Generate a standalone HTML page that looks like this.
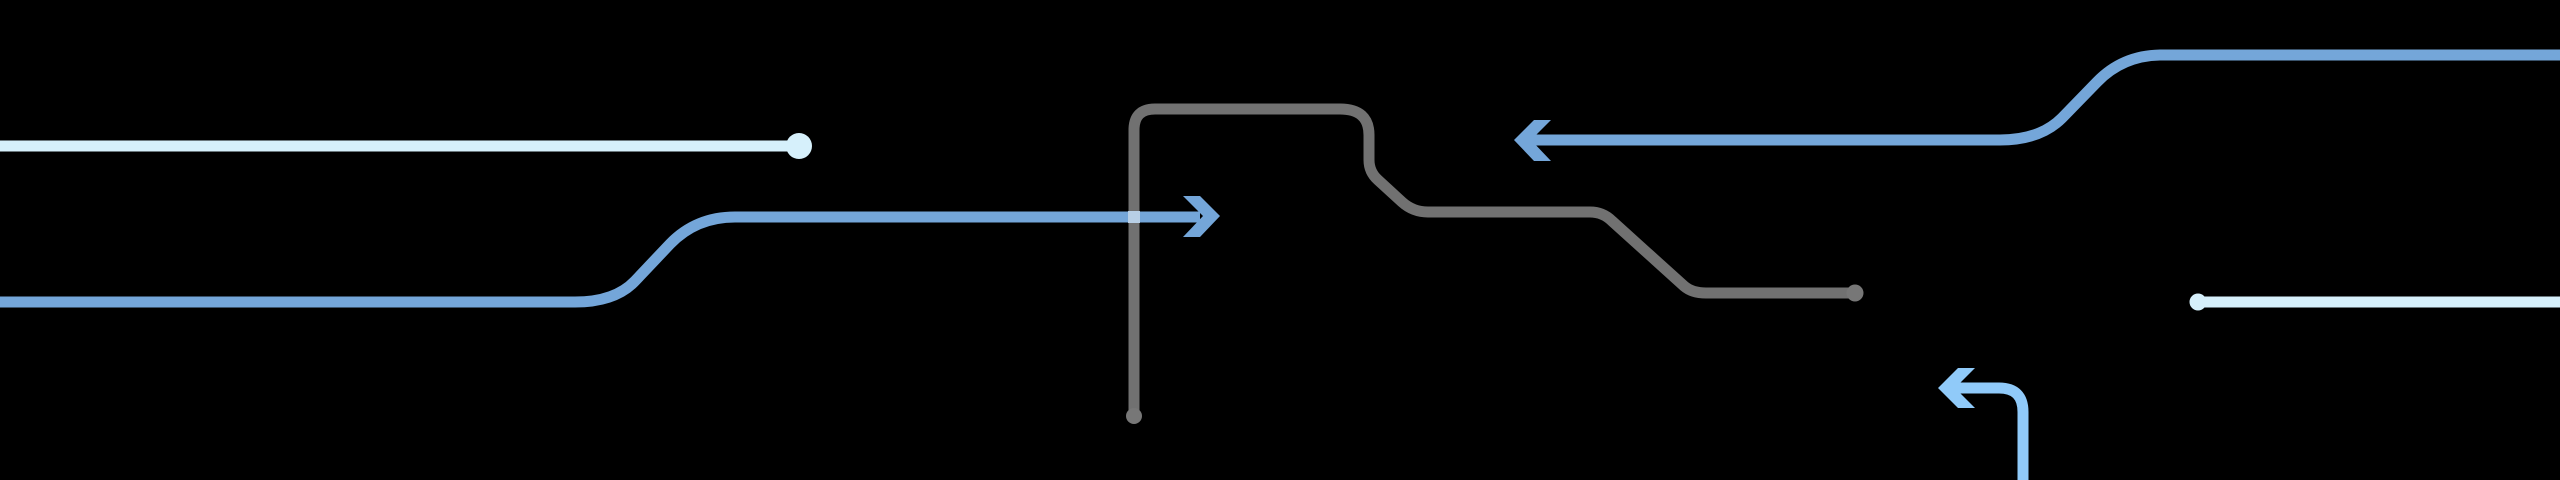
<!DOCTYPE html>
<html><head><meta charset="utf-8"><style>html,body{margin:0;padding:0;background:#000;width:2560px;height:480px;overflow:hidden}</style></head>
<body>
<svg width="2560" height="480" viewBox="0 0 2560 480" xmlns="http://www.w3.org/2000/svg">
<g fill="none" stroke-width="11">
  <path d="M0 146 H800" stroke="#d6f0fb"/>
  <path d="M0 302 H575 Q615 302 635 281 L670 244 Q696 217 735 217 H1200" stroke="#74a6d9"/>
  <path d="M1134 417 V130 Q1134 109 1155 109 H1340 Q1369 109 1369 135 V160 Q1369 172 1378 180 L1402 202 Q1413 212 1428 212 H1590 Q1603 212 1612 221 L1684 286 Q1692 293 1706 293 H1855" stroke="#777" stroke-opacity="0.95"/>
  <path d="M1530 140 H2000 Q2040 140 2062 118 L2097 82 Q2123 55 2162 55 H2560" stroke="#74a6d9"/>
  <path d="M2196 302 H2560" stroke="#d6f0fb"/>
  <path d="M2023 480 V412 Q2023 388 1999 388 H1955" stroke="#90caf9"/>
</g>
<rect x="1128" y="211" width="12" height="12" fill="#b8cfe6"/>
<circle cx="799" cy="146" r="13" fill="#d6f0fb"/>
<circle cx="1134" cy="416" r="8" fill="#777"/>
<circle cx="1855" cy="293" r="8.5" fill="#777"/>
<circle cx="2198" cy="302" r="8.5" fill="#d6f0fb"/>
<polygon points="1183,196 1200,196 1220,216 1200,237 1183,237 1203,216" fill="#74a6d9"/>
<polygon points="1551,120 1534,120 1514,140 1534,161 1551,161 1531,140" fill="#74a6d9"/>
<polygon points="1975,368 1958,368 1938,388 1958,408 1975,408 1955,388" fill="#90caf9"/>
</svg>
</body></html>
